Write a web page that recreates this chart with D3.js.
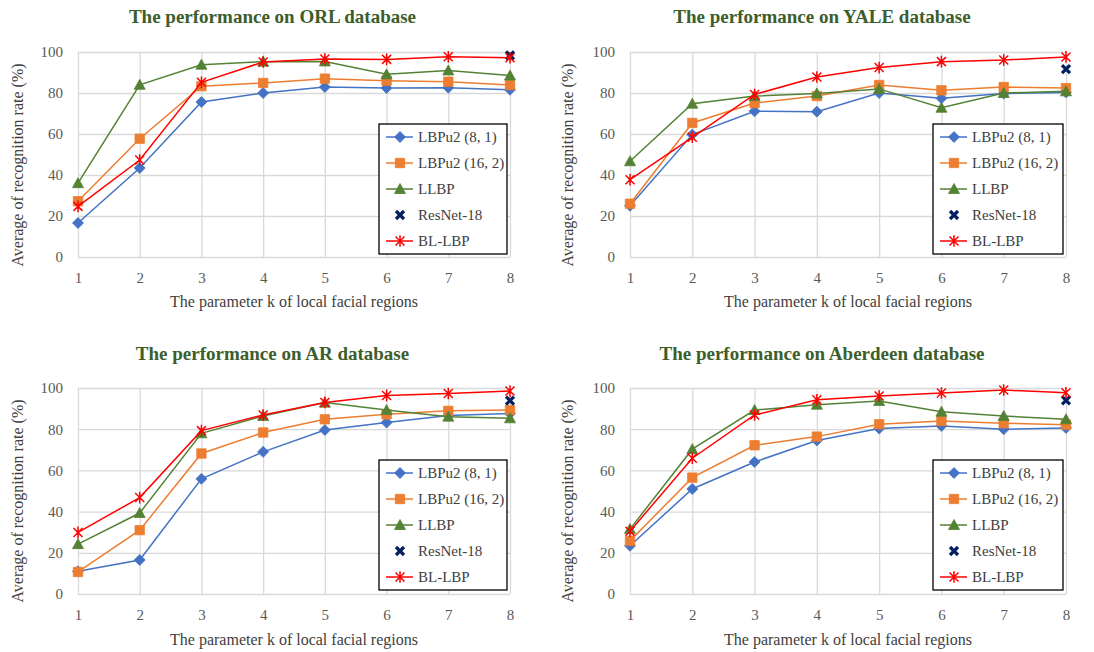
<!DOCTYPE html>
<html>
<head>
<meta charset="utf-8">
<title>Recognition rate vs k</title>
<script src="https://cdn.jsdelivr.net/npm/d3@7"></script>
<style>
    body { margin: 0; background: #fff; }
    svg text { font-family: "Liberation Serif", "Times New Roman", "DejaVu Serif", serif !important; }
</style>
</head>
<body>
<div id="chart"></div>
<script>
// ---- data ----
var categories = [1, 2, 3, 4, 5, 6, 7, 8];
var yTicks = [0, 20, 40, 60, 80, 100];
var seriesNames = ["LBPu2 (8, 1)", "LBPu2 (16, 2)", "LLBP", "ResNet-18", "BL-LBP"];
var titles = ["The performance on ORL database", "The performance on YALE database",
              "The performance on AR database", "The performance on Aberdeen database"];

var orlLbp81   = [16.6, 43.4, 75.6, 80.0, 82.9, 82.4, 82.6, 81.6];
var orlLbp162  = [27.2, 57.7, 83.3, 84.9, 87.0, 86.0, 85.5, 83.9];
var orlLlbp    = [36.0, 84.0, 93.8, 95.3, 95.4, 89.1, 91.0, 88.5];
var orlResnet  = [null, null, null, null, null, null, null, 98.4];
var orlBlLbp   = [24.7, 47.3, 85.2, 95.1, 96.6, 96.4, 97.7, 97.2];

var yaleLbp81  = [25.0, 59.7, 71.1, 70.9, 80.0, 77.4, 79.7, 80.3];
var yaleLbp162 = [26.0, 65.4, 75.1, 78.5, 83.9, 81.3, 82.9, 82.4];
var yaleLlbp   = [46.7, 74.8, 78.5, 79.8, 82.0, 72.8, 80.0, 80.8];
var yaleResnet = [null, null, null, null, null, null, null, 91.7];
var yaleBlLbp  = [37.7, 58.4, 79.3, 87.8, 92.4, 95.3, 96.1, 97.6];

var arLbp81    = [11.0, 16.5, 55.9, 69.0, 79.6, 83.2, 86.6, 87.6];
var arLbp162   = [10.7, 31.0, 68.2, 78.4, 84.8, 87.2, 88.9, 89.3];
var arLlbp     = [24.2, 39.3, 78.0, 86.4, 92.9, 89.3, 86.1, 85.3];
var arResnet   = [null, null, null, null, null, null, null, 93.9];
var arBlLbp    = [29.9, 46.8, 79.3, 86.9, 93.0, 96.4, 97.3, 98.5];

var abLbp81    = [23.4, 51.0, 64.1, 74.5, 80.3, 81.6, 80.0, 80.6];
var abLbp162   = [25.8, 56.5, 72.2, 76.4, 82.4, 84.0, 82.9, 82.2];
var abLlbp     = [31.5, 70.3, 89.3, 91.9, 93.7, 88.5, 86.4, 84.8];
var abResnet   = [null, null, null, null, null, null, null, 94.0];
var abBlLbp    = [30.5, 65.9, 86.9, 94.3, 96.1, 97.6, 99.0, 97.7];

var panelData = [
    [orlLbp81, orlLbp162, orlLlbp, orlResnet, orlBlLbp],
    [yaleLbp81, yaleLbp162, yaleLlbp, yaleResnet, yaleBlLbp],
    [arLbp81, arLbp162, arLlbp, arResnet, arBlLbp],
    [abLbp81, abLbp162, abLlbp, abResnet, abBlLbp]
];

// ---- styles ----
var colors  = ["#4472C4", "#ED7D31", "#548235", "#002060", "#FF0000"];
var markers = ["diamond", "square", "triangle", "cross", "star"];
var hasLine = [true, true, true, false, true];
var serif = '"Liberation Serif", "Times New Roman", serif';

var W = 1094, H = 652;
var svg = d3.select("#chart").append("svg").attr("width", W).attr("height", H);

// plot boxes and chart areas for the four panels
var boxes = [
    {left: 78,  right: 510,  top: 52,  bottom: 257, areaL: 0,   areaR: 545, titleY: 23,  xTitleY: 307, yTitleY: 165},
    {left: 630, right: 1066, top: 52,  bottom: 257, areaL: 550, areaR: 1094, titleY: 23, xTitleY: 307, yTitleY: 165},
    {left: 78,  right: 510,  top: 388, bottom: 594, areaL: 0,   areaR: 545, titleY: 360, xTitleY: 645, yTitleY: 501},
    {left: 630, right: 1066, top: 388, bottom: 594, areaL: 550, areaR: 1094, titleY: 360, xTitleY: 645, yTitleY: 501}
];

function markerPath(type) {
    if (type == "diamond") return "M0,-5.5L5.5,0L0,5.5L-5.5,0Z";
    if (type == "square") return "M-4.7,-4.7h9.4v9.4h-9.4Z";
    if (type == "triangle") return "M0,-5.5L5.5,4.5L-5.5,4.5Z";
    if (type == "cross") return "M-4,-4L4,4M4,-4L-4,4";
    return "M-4.5,-4.5L4.5,4.5M4.5,-4.5L-4.5,4.5M0,-5.8V5.8"; // star
}

function drawMarker(g, type, color, cx, cy) {
    var p = g.append("path")
        .attr("d", markerPath(type))
        .attr("transform", "translate(" + cx + "," + cy + ")");
    if (type == "cross") {
        p.attr("fill", "none").attr("stroke", color).attr("stroke-width", 3.2);
    } else if (type == "star") {
        p.attr("fill", "none").attr("stroke", color).attr("stroke-width", 1.5);
    } else {
        p.attr("fill", color).attr("stroke", color).attr("stroke-width", 0.8);
    }
}

panelData.forEach(function(series, i) {
    drawPanel(series, titles[i], boxes[i]);
});

function drawPanel(series, title, b) {
    var x = d3.scaleLinear().domain([1, 8]).range([b.left, b.right]);
    var y = d3.scaleLinear().domain([0, 100]).range([b.bottom, b.top]);
    var g = svg.append("g");

    // y axis with grid lines
    var ya = g.append("g")
        .attr("transform", "translate(" + b.left + ",0)")
        .call(d3.axisLeft(y).tickValues(yTicks).tickSize(-(b.right - b.left)).tickPadding(15));
    ya.select(".domain").remove();

    // x axis with grid lines
    var xa = g.append("g")
        .attr("transform", "translate(0," + b.bottom + ")")
        .call(d3.axisBottom(x).tickValues(categories).tickFormat(d3.format("d"))
            .tickSize(-(b.bottom - b.top)).tickPadding(15));
    xa.select(".domain").remove();

    ya.attr("font-family", null).attr("font-size", null);
    xa.attr("font-family", null).attr("font-size", null);
    g.selectAll(".tick line").attr("stroke", "#d9d9d9").attr("stroke-width", 1.3);
    g.selectAll(".tick text")
        .style("font-family", serif)
        .style("font-size", "15px")
        .attr("fill", "#595959");

    // title
    g.append("text")
        .attr("x", (b.areaL + b.areaR) / 2)
        .attr("y", b.titleY)
        .attr("text-anchor", "middle")
        .style("font-family", serif)
        .style("font-size", "19px")
        .style("font-weight", "bold")
        .attr("fill", "#3B5E2B")
        .text(title);

    // axis titles
    g.append("text")
        .attr("x", (b.left + b.right) / 2)
        .attr("y", b.xTitleY)
        .attr("text-anchor", "middle")
        .style("font-family", serif)
        .style("font-size", "16px")
        .attr("fill", "#404040")
        .text("The parameter k of local facial regions");

    g.append("text")
        .attr("transform", "translate(" + (b.areaL + 23) + "," + b.yTitleY + ") rotate(-90)")
        .attr("text-anchor", "middle")
        .style("font-family", serif)
        .style("font-size", "16px")
        .attr("fill", "#404040")
        .text("Average of recognition rate (%)");

    // series
    var line = d3.line()
        .defined(function(d) { return d != null; })
        .x(function(d, i) { return x(categories[i]); })
        .y(function(d) { return y(d); });

    series.forEach(function(vals, s) {
        if (hasLine[s]) {
            g.append("path")
                .datum(vals)
                .attr("d", line)
                .attr("fill", "none")
                .attr("stroke", colors[s])
                .attr("stroke-width", 1.5);
        }
        vals.forEach(function(v, k) {
            if (v == null) return;
            drawMarker(g, markers[s], colors[s], x(categories[k]), y(v));
        });
    });

    // legend
    var lx = b.right - 3 - (b.right - b.left > 433 ? 130 : 128);
    var ly = b.top + 72;
    var lg = g.append("g").attr("transform", "translate(" + lx + "," + ly + ")");
    lg.append("rect")
        .attr("width", b.right - 3 - lx)
        .attr("height", 130)
        .attr("fill", "#fff")
        .attr("stroke", "#000")
        .attr("stroke-width", 1.3);
    seriesNames.forEach(function(name, s) {
        var ry = 13 + 26 * s;
        if (hasLine[s]) {
            lg.append("line")
                .attr("x1", 7).attr("x2", 34)
                .attr("y1", ry).attr("y2", ry)
                .attr("stroke", colors[s]).attr("stroke-width", 1.5);
        }
        drawMarker(lg, markers[s], colors[s], 21, ry);
        lg.append("text")
            .attr("x", 39)
            .attr("y", ry + 5)
            .style("font-family", serif)
            .style("font-size", "15px")
            .attr("fill", "#404040")
            .text(name);
    });
}
</script>
</body>
</html>
